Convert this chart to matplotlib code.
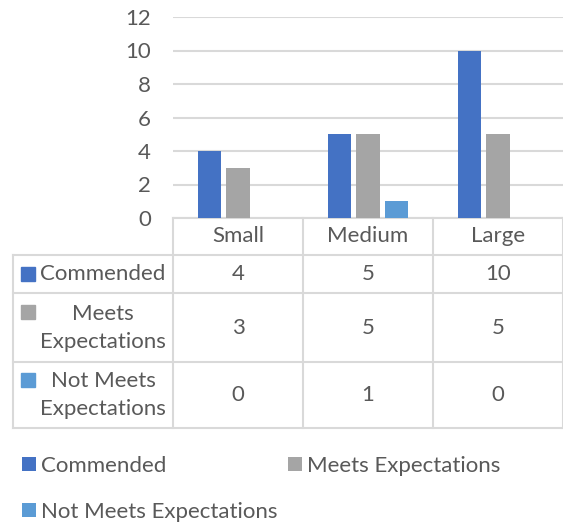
import matplotlib
matplotlib.use("Agg")
import matplotlib.pyplot as plt
import matplotlib.transforms as mtransforms
from matplotlib.lines import Line2D
from matplotlib.patches import Rectangle
import numpy as np

categories = ["Small", "Medium", "Large"]
series_names = ["Commended", "Meets Expectations", "Not Meets Expectations"]
row_labels = ["Commended", "Meets\nExpectations", "Not Meets\nExpectations"]
commended = [4, 5, 10]
meets = [3, 5, 5]
not_meets = [0, 1, 0]
colors = ["#4472C4", "#A5A5A5", "#5B9BD5"]
yticks = [0, 2, 4, 6, 8, 10, 12]

W, H = 563, 525
TXT = "#595959"
GRID = "#D9D9D9"
FONT = "Lato"
FS = 16

plt.rcParams["font.family"] = [FONT, "DejaVu Sans"]

fig = plt.figure(figsize=(W / 100, H / 100), dpi=100)

def fx(x):
    return x / W

def fy(y):
    return 1 - y / H

ax_left, ax_right, ax_top, ax_bot = 173, 563, 17, 218
ax = fig.add_axes([fx(ax_left), fy(ax_bot), fx(ax_right - ax_left), (ax_bot - ax_top) / H])

data = [commended, meets, not_meets]
x = np.arange(len(categories))
bw = 0.177
step = 0.223
for i, (vals, c, name) in enumerate(zip(data, colors, series_names)):
    ax.bar(x + (i - 1) * step, vals, width=bw, color=c, label=name, zorder=3)

ax.set_xlim(-0.5, len(categories) - 0.5)
ax.set_ylim(0, 12)
ax.set_yticks(yticks)
ax.set_xticks([])
ax.tick_params(axis="y", length=0, pad=16, labelsize=FS, labelcolor=TXT)
for s in ["top", "right", "left"]:
    ax.spines[s].set_visible(False)
ax.spines["bottom"].set_color(GRID)
ax.spines["bottom"].set_linewidth(1.5)
ax.yaxis.grid(True, color=GRID, linewidth=1.5, zorder=0)
ax.set_axisbelow(True)

# ---- data table ----
blend = mtransforms.blended_transform_factory(ax.transData, fig.transFigure)
row_bounds = [218, 255, 293, 362, 428]  # header, rows
left_edge = 13

for b in np.arange(-0.5, len(categories) - 0.5 + 0.01, 1.0):
    fig.add_artist(Line2D([b, b], [fy(row_bounds[0]), fy(row_bounds[-1])],
                          transform=blend, color=GRID, lw=1.5, clip_on=False))
fig.add_artist(Line2D([fx(left_edge)] * 2, [fy(row_bounds[1]), fy(row_bounds[-1])],
                      transform=fig.transFigure, color=GRID, lw=1.5))
for yb in row_bounds[1:]:
    fig.add_artist(Line2D([fx(left_edge), 1], [fy(yb), fy(yb)],
                          transform=fig.transFigure, color=GRID, lw=1.5))

for i, cat in enumerate(categories):
    fig.text(i, fy((row_bounds[0] + row_bounds[1]) / 2), cat, transform=blend,
             ha="center", va="center", fontsize=FS, color=TXT)

sq = 14
square_y = [274, 312, 380]
for r, (vals, c, lab) in enumerate(zip(data, colors, row_labels)):
    yc = (row_bounds[r + 1] + row_bounds[r + 2]) / 2
    for i, v in enumerate(vals):
        fig.text(i, fy(yc), str(v), transform=blend, ha="center", va="center",
                 fontsize=FS, color=TXT)
    fig.text(fx(103), fy(yc), lab, ha="center", va="center", multialignment="center",
             fontsize=FS, color=TXT, linespacing=1.5)
    fig.add_artist(Rectangle((fx(21), fy(square_y[r] + sq / 2)), fx(sq), sq / H,
                             transform=fig.transFigure, color=c))

# ---- legend ----
handles, labels = ax.get_legend_handles_labels()
order = [0, 2, 1]
fig.legend([handles[k] for k in order], [labels[k] for k in order],
           ncol=2, loc="upper left", bbox_to_anchor=(fx(22), fy(456)),
           frameon=False, fontsize=FS, labelcolor=TXT,
           handlelength=0.62, handleheight=0.62, handletextpad=0.25,
           columnspacing=0.45, labelspacing=1.15, borderaxespad=0, borderpad=0)

fig.savefig("out.png", dpi=100)
